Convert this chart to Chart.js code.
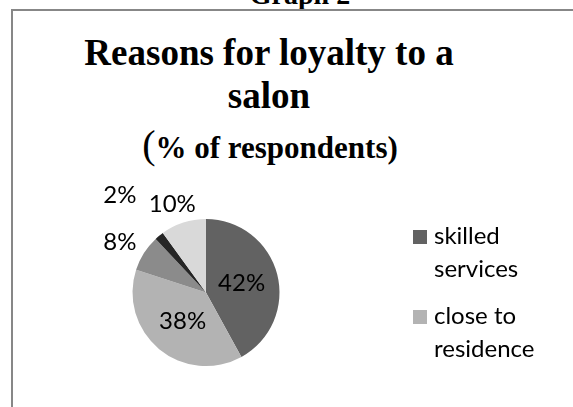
<!DOCTYPE html>
<html>
<head>
<meta charset="utf-8">
<script src="https://cdn.jsdelivr.net/npm/chart.js@4"></script>
<style>
  body { margin: 0; width: 573px; height: 407px; overflow: hidden; background: #fff; position: relative; }
  .frame { position: absolute; left: 11px; top: 9px; width: 620px; height: 460px; border: 2px solid #878787; box-sizing: border-box; }
  .serif { position: absolute; left: 0; text-align: center; font-family: "Liberation Serif", "Times New Roman", serif; font-weight: bold; line-height: 1; white-space: nowrap; color: #000; }
  .paren { font-weight: normal; font-size: 40px; line-height: 0; }
  #chart { position: absolute; left: 0; top: 0; }
</style>
</head>
<body>
<div class="serif" style="width:600px; top:-19px; font-size:28px;">Graph 2</div>
<div class="frame"></div>
<div class="serif" style="width:538px; top:34px; font-size:37px;">Reasons for loyalty to a</div>
<div class="serif" style="width:538px; top:77px; font-size:37px;">salon</div>
<div class="serif" style="width:540px; top:132px; font-size:31px;"><span class="paren">(</span>% of respondents)</div>
<canvas id="chart" width="573" height="407"></canvas>
<script>
// 데이터
const categories = ["skilled services", "close to residence", "reason 3", "reason 4", "reason 5"];
const shares = [42, 38, 8, 2, 10];
const sliceColors = ["#626262", "#b3b3b3", "#8b8b8b", "#252525", "#d9d9d9"];

const labelFont = "24px Lato";

// 퍼센트 라벨
const sliceLabels = {
  id: "sliceLabels",
  afterDatasetsDraw(chart) {
    const ctx = chart.ctx;
    const values = chart.data.datasets[0].data;
    ctx.save();
    ctx.font = labelFont;
    ctx.fillStyle = "#000";
    ctx.textAlign = "center";
    ctx.textBaseline = "alphabetic";
    const items = chart.getDatasetMeta(0).data.map((arc, i) => {
      const p = arc.getProps(["x", "y", "startAngle", "endAngle", "outerRadius"], true);
      const mid = (p.startAngle + p.endAngle) / 2;
      return { p, dx: Math.cos(mid), dy: Math.sin(mid), v: values[i], text: values[i] + "%", w: ctx.measureText(values[i] + "%").width };
    });
    // 바깥 라벨: 큰 값부터 놓고 겹치면 바깥으로 밀기
    const placed = [];
    const outside = items.filter(it => it.v < 20).sort((a, b) => b.v - a.v);
    outside.forEach(it => {
      let d = it.p.outerRadius + 12;
      const box = () => {
        const cx = it.p.x + it.dx * (d + it.w / 2);
        const cy = it.p.y + it.dy * (d + 8);
        return { cx, cy, l: cx - it.w / 2, r: cx + it.w / 2, t: cy - 8, b: cy + 8 };
      };
      let bx = box();
      const padX = 12, padY = 2;
      while (placed.some(o => bx.l < o.r + padX && bx.r > o.l - padX && bx.t < o.b + padY && bx.b > o.t - padY) && d < it.p.outerRadius + 80) {
        d += 1;
        bx = box();
      }
      placed.push(bx);
      ctx.fillText(it.text, bx.cx, bx.cy + 8);
    });
    items.filter(it => it.v >= 20).forEach(it => {
      const x = it.p.x + it.dx * it.p.outerRadius * 0.5;
      const y = it.p.y + it.dy * it.p.outerRadius * 0.5;
      ctx.fillText(it.text, x, y + 8);
    });
    ctx.restore();
  }
};

// 범례 (오른쪽, 잘린 부분은 그리지 않음)
function wrapText(ctx, text, maxWidth) {
  const words = text.split(" ");
  const lines = [];
  let line = "";
  words.forEach(w => {
    const test = line ? line + " " + w : w;
    if (line && ctx.measureText(test).width > maxWidth) {
      lines.push(line);
      line = w;
    } else {
      line = test;
    }
  });
  if (line) lines.push(line);
  return lines;
}

const sideLegend = {
  id: "sideLegend",
  afterDraw(chart) {
    const ctx = chart.ctx;
    const colors = chart.data.datasets[0].backgroundColor;
    ctx.save();
    ctx.font = labelFont;
    ctx.textBaseline = "alphabetic";
    ctx.textAlign = "left";
    let y = 244;
    for (let i = 0; i < chart.data.labels.length; i++) {
      const lines = wrapText(ctx, chart.data.labels[i], 100);
      if (y + (lines.length - 1) * 33 > 385) break;
      ctx.fillStyle = colors[i];
      ctx.fillRect(413, y - 14, 14, 14);
      ctx.fillStyle = "#000";
      lines.forEach((ln, k) => ctx.fillText(ln, 434, y + k * 33));
      y += lines.length * 33 + 14;
    }
    ctx.restore();
  }
};

new Chart(document.getElementById("chart"), {
  type: "pie",
  data: {
    labels: categories,
    datasets: [{
      data: shares,
      backgroundColor: sliceColors,
      borderWidth: 0
    }]
  },
  options: {
    responsive: false,
    animation: false,
    layout: { padding: { left: 132.5, right: 293.5, top: 219, bottom: 41 } },
    plugins: {
      legend: { display: false },
      title: { display: false },
      tooltip: { enabled: false }
    }
  },
  plugins: [sliceLabels, sideLegend]
});
</script>
</body>
</html>
